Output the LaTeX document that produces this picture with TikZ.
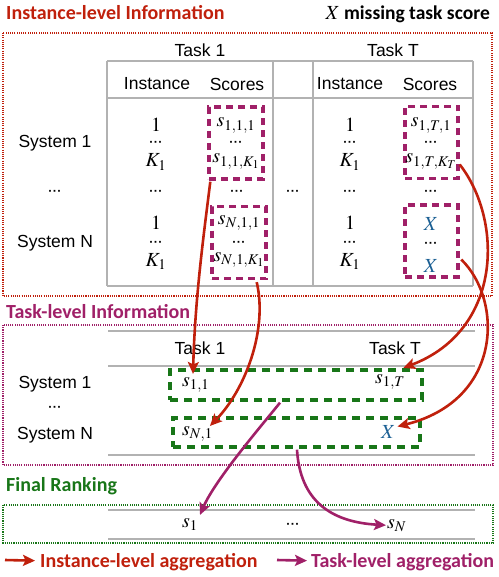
\documentclass[tikz,border=0pt]{standalone}
\usepackage{mathptmx}
\usepackage[no-math]{fontspec}
\setmainfont{Liberation Sans}
\newfontfamily\carl{Carlito}
\usetikzlibrary{arrows.meta,calc}
\definecolor{cred}{RGB}{192,32,12}
\definecolor{cmag}{RGB}{160,32,104}
\definecolor{cgrn}{RGB}{24,118,24}
\definecolor{cblu}{RGB}{28,96,148}
\definecolor{cgry}{RGB}{178,178,178}
\newcommand{\mydots}{\textperiodcentered\kern0.3pt\textperiodcentered\kern0.3pt\textperiodcentered}
\begin{document}
\begin{tikzpicture}[x=1pt,y=-1pt,
  ttl/.style={font=\carl\bfseries\fontsize{20}{24}\selectfont, anchor=base west, inner sep=0},
  lab/.style={font=\fontsize{17.5}{20}\selectfont, inner sep=0},
  mth/.style={font=\fontsize{20}{24}\selectfont, inner sep=0, anchor=base},
  dts/.style={font=\bfseries\fontsize{12.5}{14}\selectfont, inner sep=0, anchor=base},
  grid/.style={draw=cgry, line width=1.1pt},
  sect/.style={line width=1.1pt, dash pattern=on 1.1pt off 1.1pt},
  magbox/.style={draw=cmag, line width=3.4pt, dash pattern=on 7pt off 5pt, minimum width=54pt, minimum height=72pt, inner sep=0},
  grnbox/.style={draw=cgrn, line width=3.4pt, dash pattern=on 8pt off 6pt, inner sep=0},
  tip/.style={-{Stealth[length=12pt,width=11pt,inset=2.5pt]}},
  redarr/.style={tip, draw=cred, line width=2.6pt},
  magarr/.style={tip, draw=cmag, line width=2.6pt},
]
\useasboundingbox (0,0) rectangle (498,577);

% ---------------- Instance-level ----------------
\node[ttl, text=cred] (t1) at (6,20) {Instance-level Information};
\node[font=\carl\bfseries\fontsize{19.5}{24}\selectfont, anchor=base east, inner sep=0] (lx) at (490,20) {{\fontsize{20}{24}\selectfont$X$}\ missing task score};
\draw[sect, draw=cred] (3,33) rectangle (492,296);

\draw[grid] (107,61) -- (473,61);
\draw[grid] (107,98) -- (473,98);
\draw[grid] (107,286) -- (473,286);
\draw[grid] (107,61) -- (107,286);
\draw[grid] (273,61) -- (273,286);
\draw[grid] (313,61) -- (313,286);
\draw[grid] (473,61) -- (473,286);

\node[lab] (h1) at (200,50) {Task 1};
\node[lab] (hT) at (393,50) {Task T};
\node[lab] (i1) at (157,84) {Instance};
\node[lab] (c1) at (237,84) {Scores};
\node[lab] (iT) at (350,84) {Instance};
\node[lab] (cT) at (430,84) {Scores};

\node[lab] (sy1) at (55,143) {System 1};
\node[dts] (syd) at (55,196) {\mydots};
\node[lab] (syN) at (55,243) {System N};

% instance columns
\foreach \xx/\nm in {156/a,350/b}{
  \node[mth] (\nm1) at (\xx,132) {$1$};
  \node[dts] (\nm2) at (\xx,147) {\mydots};
  \node[mth] (\nm3) at (\xx,167) {$K_1$};
  \node[dts] (\nm4) at (\xx,196) {\mydots};
  \node[mth] (\nm5) at (\xx,229) {$1$};
  \node[dts] (\nm6) at (\xx,246) {\mydots};
  \node[mth] (\nm7) at (\xx,266) {$K_1$};
}
\node[dts] (md) at (293,196) {\mydots};

% score boxes
\node[magbox] (b11) at (236,143) {};
\node[magbox] (bN1) at (239,242.5) {};
\node[magbox, minimum width=53pt] (bT1) at (431.5,142.5) {};
\node[magbox, minimum width=53pt] (bTN) at (431.5,241) {};

\node[mth] (s111) at (236,127) {$s_{1,1,1}$};
\node[dts] (s11d) at (236,147) {\mydots};
\node[mth] (s11K) at (236,163) {$s_{1,1,K_1}$};
\node[dts] (smd) at (237,196) {\mydots};
\node[mth] (sN11) at (239,224) {$s_{N,1,1}$};
\node[dts] (sN1d) at (239,246) {\mydots};
\node[mth] (sN1K) at (239,261) {$s_{N,1,K_1}$};

\node[mth] (s1T1) at (431,127) {$s_{1,T,1}$};
\node[dts] (s1Td) at (431,147) {\mydots};
\node[mth] (s1TK) at (431,163) {$s_{1,T,K_T}$};
\node[dts] (sTmd) at (431,196) {\mydots};
\node[mth, text=cblu] (x1) at (431,230) {$X$};
\node[dts] (xd) at (431,247) {\mydots};
\node[mth, text=cblu] (x2) at (431,272) {$X$};

% ---------------- Task-level ----------------
\node[ttl, text=cmag] (t2) at (6,318) {Task-level Information};
\draw[sect, draw=cmag] (3,325) rectangle (493,465);
\draw[grid] (108,331) -- (475,331);
\draw[grid] (108,366) -- (475,366);
\draw[grid] (108,455) -- (475,455);
\node[lab] (k1) at (200,348) {Task 1};
\node[lab] (kT) at (395,348) {Task T};
\node[lab] (ty1) at (55,384) {System 1};
\node[dts] (tyd) at (55,411) {\mydots};
\node[lab] (tyN) at (55,435) {System N};

\node[grnbox, minimum width=252pt, minimum height=30pt] (g1) at (296,385) {};
\node[grnbox, minimum width=247pt, minimum height=29pt] (g2) at (296.5,432.5) {};
\node[mth, anchor=base west] (s11) at (182,386) {$s_{1,1}$};
\node[mth, anchor=base west] (sN1) at (182,435) {$s_{N,1}$};
\node[mth, anchor=base west] (s1T) at (375,383) {$s_{1,T}$};
\node[mth, anchor=base west, text=cblu] (xT) at (381,438) {$X$};

% ---------------- Final ranking ----------------
\node[ttl, text=cgrn] (t3) at (6,491) {Final Ranking};
\draw[sect, draw=cgrn] (3,505) rectangle (493,543);
\draw[grid] (108,510) -- (475,510);
\draw[grid] (108,539) -- (475,539);
\node[mth, anchor=base west] (f1) at (182,527) {$s_1$};
\node[dts] (fd) at (293,528) {\mydots};
\node[mth, anchor=base west] (fN) at (387,528) {$s_N$};

% ---------------- arrows ----------------
\draw[redarr] ($(b11.south west)+(3,1)$) .. controls (203,240) and (195,300) .. ($(s11.north west)+(11,-3)$);
\draw[redarr] ($(bN1.south east)+(-11,2)$) .. controls (268,330) and (245,390) .. ($(sN1.north east)+(-3,0)$);
\draw[redarr] ($(s1TK.east)+(3,3)$) .. controls (503,220) and (503,330) .. ($(s1T.north east)+(-2,-6)$);
\draw[redarr] ($(x2.east)+(23,-6)$) .. controls (503,300) and (503,400) .. ($(xT.east)+(2,-5)$);

\draw[magarr] ($(g1.south)+(-16,1)$) .. controls (262,425) and (215,480) .. ($(f1.north west)+(18,-3)$);
\draw[magarr] ($(g2.south)+(0.5,1)$) .. controls (300,500) and (330,522) .. ($(fN.west)+(-1,0)$);

% ---------------- legend ----------------
\coordinate (la) at (5,560);
\coordinate (lb) at (277,560);
\node[ttl, text=cred] (l1) at (40,567) {Instance-level aggregation};
\node[ttl, text=cmag] (l2) at (311,567) {Task-level aggregation};
\draw[redarr] (la) -- ($(l1.west)+(-5,-1)$);
\draw[magarr] (lb) -- ($(l2.west)+(-4,-1)$);
\end{tikzpicture}
\end{document}
